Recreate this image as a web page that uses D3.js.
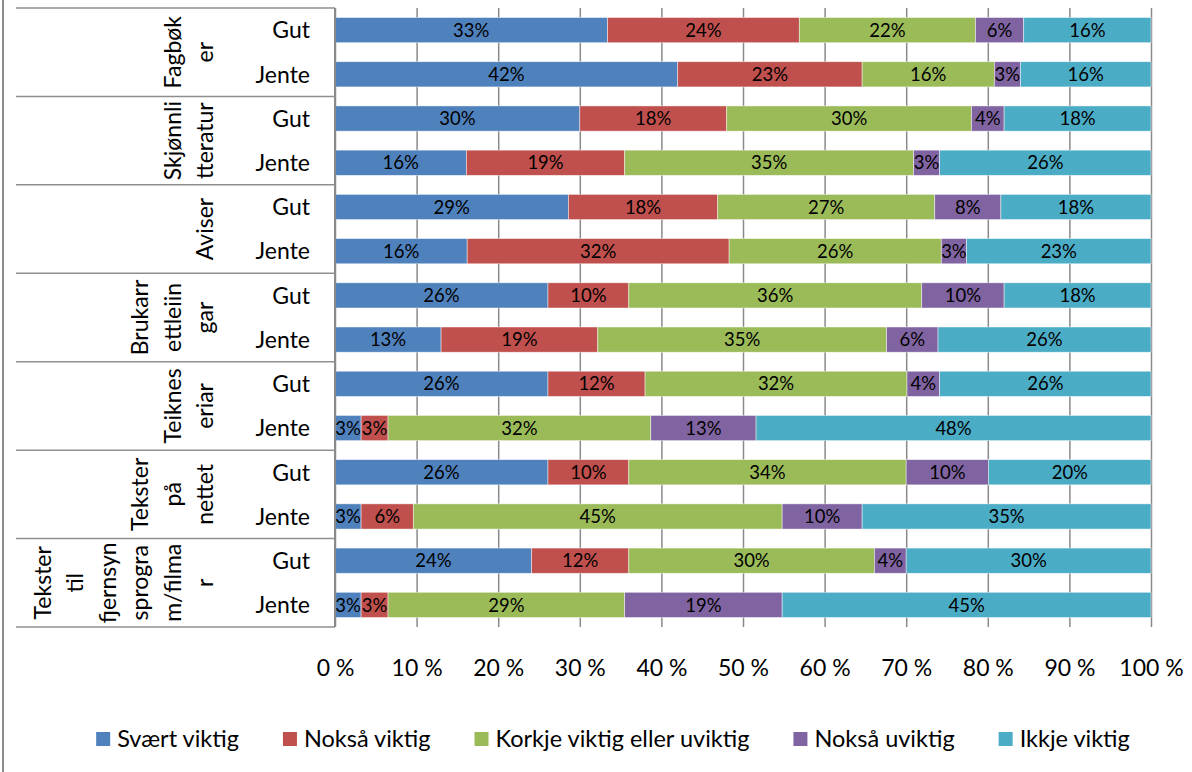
<!DOCTYPE html>
<html>
<head>
<meta charset="utf-8">
<script src="https://cdn.jsdelivr.net/npm/d3@7"></script>
<style>
  body { margin: 0; background: #fff; }
  svg { display: block; font-family: Lato, sans-serif; }
</style>
</head>
<body>
<div id="chart"></div>
<script>
// rows top to bottom: each group has Gut then Jente
var groups = ["Fagbøker", "Skjønnlitteratur", "Aviser", "Brukarrettleiingar", "Teikneseriar", "Tekster på nettet", "Tekster til fjernsynsprogram/filmar"];
var groupLines = [["Fagbøk", "er"], ["Skjønnli", "tteratur"], ["Aviser"], ["Brukarr", "ettleiin", "gar"], ["Teiknes", "eriar"], ["Tekster", "på", "nettet"], ["Tekster", "til", "fjernsyn", "sprogra", "m/filma", "r"]];
var genders = ["Gut", "Jente"];
var keys = ["Svært viktig", "Nokså viktig", "Korkje viktig eller uviktig", "Nokså uviktig", "Ikkje viktig"];
var colors = ["#4f81bd", "#c0504d", "#9bbb59", "#8064a2", "#4bacc6"];

var svaertViktig = [33.4, 42.0, 30.0, 16.1, 28.6, 16.2, 26.1, 13.0, 26.1, 3.2, 26.1, 3.2, 24.1, 3.2];
var noksaViktig = [23.5, 22.6, 18.0, 19.4, 18.3, 32.1, 9.9, 19.2, 11.9, 3.3, 9.9, 6.4, 11.9, 3.3];
var korkje = [21.6, 16.2, 30.0, 35.4, 26.6, 26.0, 35.9, 35.4, 32.1, 32.2, 34.0, 45.2, 30.1, 29.0];
var noksaUviktig = [5.9, 3.2, 4.0, 3.2, 8.1, 3.1, 10.1, 6.3, 4.0, 12.9, 10.1, 9.8, 3.9, 19.3];
var ikkjeViktig = [15.6, 16.0, 18.0, 25.9, 18.4, 22.6, 18.0, 26.1, 25.9, 48.4, 19.9, 35.4, 30.0, 45.2];
var xTicks = [0, 10, 20, 30, 40, 50, 60, 70, 80, 90, 100];

var series = [svaertViktig, noksaViktig, korkje, noksaUviktig, ikkjeViktig];
var data = d3.range(svaertViktig.length).map(function(i) {
  var row = {idx: i, gender: genders[i % 2]};
  keys.forEach(function(k, j) { row[k] = series[j][i]; });
  return row;
});

var W = 1192, H = 772,
    plotLeft = 335, plotRight = 1151, plotTop = 8, plotBottom = 627;

var svg = d3.select("#chart").append("svg")
  .attr("width", W)
  .attr("height", H);

svg.append("rect").attr("width", W).attr("height", H).attr("fill", "#fff");

var xScale = d3.scaleLinear().domain([0, 100]).range([plotLeft, plotRight]);
var yScale = d3.scaleBand().domain(d3.range(data.length)).range([plotTop, plotBottom])
  .paddingInner(0.43).paddingOuter(0.215);
var groupScale = d3.scaleBand().domain(groups).range([plotTop, plotBottom]);

// outer frame edge on the left
svg.append("line")
  .attr("x1", 3).attr("x2", 3).attr("y1", 0).attr("y2", H)
  .attr("stroke", "#8c8c8c").attr("stroke-width", 2);

// gridlines
var grid = svg.append("g")
  .attr("transform", "translate(0," + plotBottom + ")")
  .call(d3.axisBottom(xScale).tickValues(xTicks).tickSize(-(plotBottom - plotTop)).tickFormat(""));
grid.select(".domain").remove();
grid.selectAll("line").attr("stroke", "#8a8a8a").attr("stroke-width", 1.5);

// tick labels
var xAxis = svg.append("g")
  .attr("transform", "translate(0," + plotBottom + ")")
  .call(d3.axisBottom(xScale).tickValues(xTicks).tickSize(0).tickPadding(33)
    .tickFormat(function(d) { return d + " %"; }));
xAxis.select(".domain").remove();
xAxis.selectAll("text")
  .attr("font-family", "Lato, sans-serif")
  .attr("font-size", 23)
  .attr("fill", "#000");

// bars
var stack = d3.stack().keys(keys);
var layers = stack(data);

var layer = svg.selectAll(".layer")
  .data(layers)
  .enter().append("g")
  .attr("class", "layer")
  .style("fill", function(d, i) { return colors[i]; });

layer.selectAll("rect")
  .data(function(d) { return d; })
  .enter().append("rect")
  .attr("x", function(d) { return xScale(d[0]); })
  .attr("y", function(d) { return yScale(d.data.idx); })
  .attr("width", function(d) { return xScale(d[1]) - xScale(d[0]); })
  .attr("height", yScale.bandwidth())
  .attr("stroke", "#fff")
  .attr("stroke-opacity", 0.6)
  .attr("stroke-width", 0.75);

layer.selectAll("text")
  .data(function(d) { return d; })
  .enter().append("text")
  .attr("x", function(d) { return (xScale(d[0]) + xScale(d[1])) / 2; })
  .attr("y", function(d) { return yScale(d.data.idx) + yScale.bandwidth() / 2; })
  .attr("dy", "0.36em")
  .attr("text-anchor", "middle")
  .attr("font-size", 18.5)
  .style("fill", "#000")
  .text(function(d) { return Math.round(d[1] - d[0]) + "%"; });

// category axis
svg.append("line")
  .attr("x1", plotLeft).attr("x2", plotLeft).attr("y1", plotTop).attr("y2", plotBottom)
  .attr("stroke", "#8a8a8a").attr("stroke-width", 2);

var seps = [plotTop].concat(groups.map(function(g) { return groupScale(g) + groupScale.bandwidth(); }));
svg.selectAll(".sep")
  .data(seps)
  .enter().append("line")
  .attr("class", "sep")
  .attr("x1", 16).attr("x2", plotLeft)
  .attr("y1", function(d) { return d; }).attr("y2", function(d) { return d; })
  .attr("stroke", "#8f8f8f").attr("stroke-width", 1.5);

svg.selectAll(".gender")
  .data(data)
  .enter().append("text")
  .attr("class", "gender")
  .attr("x", 310)
  .attr("y", function(d) { return yScale(d.idx) + yScale.bandwidth() / 2; })
  .attr("dy", "0.36em")
  .attr("text-anchor", "end")
  .attr("font-size", 23)
  .text(function(d) { return d.gender; });

var glabel = svg.selectAll(".glabel")
  .data(groups)
  .enter().append("g")
  .attr("class", "glabel");

glabel.selectAll("text")
  .data(function(d, i) {
    var lines = groupLines[i];
    return lines.map(function(t, j) { return {t: t, g: d, k: lines.length - 1 - j}; });
  })
  .enter().append("text")
  .attr("transform", function(d) {
    return "translate(" + (205 - d.k * 32.5) + "," + (groupScale(d.g) + groupScale.bandwidth() / 2) + ") rotate(-90)";
  })
  .attr("dy", "0.36em")
  .attr("text-anchor", "middle")
  .attr("font-size", 23)
  .text(function(d) { return d.t; });

// legend
var legend = svg.append("g").attr("class", "legend");
var items = legend.selectAll("g")
  .data(keys)
  .enter().append("g");

items.append("rect")
  .attr("width", 14).attr("height", 14)
  .attr("y", -7)
  .attr("fill", function(d, i) { return colors[i]; });

items.append("text")
  .attr("x", 21)
  .attr("dy", "0.36em")
  .attr("font-size", 23.5)
  .text(function(d) { return d; });

var gap = 44, lx = 0;
items.each(function() {
  var w = this.querySelector("text").getComputedTextLength();
  d3.select(this).attr("transform", "translate(" + lx + ",0)");
  lx += 21 + w + gap;
});
var legendWidth = lx - gap;
legend.attr("transform", "translate(" + (613 - legendWidth / 2) + ",739)");
</script>
</body>
</html>
